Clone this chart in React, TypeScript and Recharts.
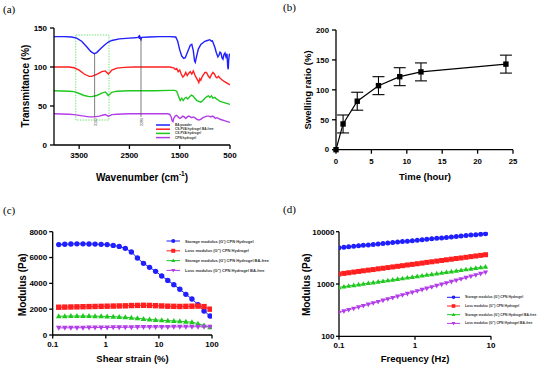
import React from 'react';
import { LineChart, Line, XAxis, YAxis, ReferenceLine, ReferenceArea, Legend, ErrorBar } from 'recharts';

// ---------- (a) FTIR spectra ----------
const baWave = [4000, 3800, 3650, 3550, 3450, 3350, 3270, 3200, 3150, 3080, 3000, 2920, 2850, 2700, 2500, 2400, 2330, 2310, 2300, 2290, 2270, 2255, 2100, 1900, 1700, 1580, 1540, 1500, 1460, 1420, 1390, 1340, 1290, 1260, 1230, 1205, 1190, 1170, 1130, 1080, 1000, 950, 900, 870, 850, 830, 800, 770, 740, 720, 700, 680, 660, 640, 620, 600, 580, 560, 545, 535, 525, 510, 500];
const baT = [139, 139, 138.5, 137, 133, 126, 120, 117, 118.5, 123, 128, 132, 134, 136, 137, 137.5, 138, 139.5, 136, 138.5, 135, 138, 138.5, 139, 139, 138.5, 133, 122, 114, 111, 112, 120, 128, 129, 121, 108, 106, 112, 123, 129, 133, 134, 135, 133, 133.5, 130, 125, 118, 113, 115, 119, 118, 112, 110, 116, 118, 113, 117, 100, 97, 110, 117, 115];

const csFreeWave = [4000, 3700, 3600, 3500, 3400, 3300, 3250, 3150, 3050, 2980, 2950, 2920, 2890, 2850, 2750, 2600, 2400, 2000, 1700, 1620, 1590, 1560, 1530, 1500, 1470, 1440, 1410, 1380, 1350, 1320, 1290, 1260, 1230, 1200, 1170, 1140, 1120, 1100, 1080, 1050, 1020, 1000, 970, 950, 930, 900, 870, 840, 810, 780, 760, 730, 700, 650, 600, 550, 500];
const csFreeT = [100, 100, 99, 96, 91, 88, 88, 90.5, 94, 95, 93, 91, 93, 96, 98.5, 99.5, 100, 100, 100, 99, 97, 98, 94, 96, 91, 87, 89, 93, 89, 92, 94, 91, 95, 90, 86, 83, 80, 85, 83, 88, 91, 93, 93, 91, 88, 86, 90, 93, 91, 87, 86, 88, 86, 83, 81, 79, 77];

const csWave = [4000, 3700, 3600, 3500, 3400, 3300, 3250, 3150, 3050, 2980, 2950, 2920, 2890, 2850, 2750, 2500, 2000, 1700, 1600, 1560, 1520, 1490, 1460, 1430, 1400, 1370, 1340, 1300, 1270, 1240, 1200, 1160, 1120, 1080, 1040, 1000, 960, 930, 900, 870, 840, 800, 770, 740, 700, 650, 600, 550, 500];
const csT = [69.5, 69, 68.5, 66, 63.5, 62, 62, 63.5, 66.5, 68, 66, 63.5, 65, 67.5, 69, 69.5, 69.5, 70, 70, 69, 62, 57, 60, 57, 60, 61, 59, 62, 64, 63, 60, 57, 56, 55, 57, 60, 62, 63, 61, 63, 60, 61, 59, 58, 56, 55, 54, 53, 52];

const cpnWave = [4000, 3700, 3600, 3500, 3400, 3300, 3200, 3100, 3020, 2980, 2950, 2920, 2880, 2850, 2750, 2500, 2000, 1750, 1700, 1670, 1650, 1635, 1620, 1590, 1560, 1530, 1500, 1470, 1440, 1410, 1380, 1350, 1320, 1290, 1260, 1230, 1200, 1160, 1120, 1080, 1040, 1000, 960, 920, 880, 850, 820, 790, 760, 730, 700, 650, 600, 550, 500];
const cpnT = [40, 39.5, 39, 38, 37, 36, 36, 37, 38.5, 39, 38, 37, 38, 39, 39.5, 40, 40, 40, 39.5, 36, 31, 30, 34, 37, 38, 36, 34, 35, 37, 36, 34, 36, 37, 36, 35, 36, 35, 33, 32, 33, 35, 36, 37, 37, 36, 37, 36, 34, 35, 34, 33, 32, 31, 30, 29];

const ftirNames = ['BA powder', 'CS-PVA hydrogel BA-free', 'CS-PVA hydrogel', 'CPN hydrogel'];
const ftirColors = ['#1f1fff', '#ff1f1f', '#1fc81f', '#b23ee8'];
const ftirXTicks = [3500, 2500, 1500, 500];
const ftirYTicks = [0, 50, 100, 150];
const peakWaves = [3192, 2270];
const peakTop = [117, 137];
const peakLabels = ['3192', '2289'];

// ---------- (b) swelling ----------
const timeHour = [0, 1, 3, 6, 9, 12, 24];
const swellingRatio = [0, 43, 81, 107, 122, 130, 143];
const swellingErr = [0, 15, 15, 15, 15, 15, 15];
const timeTicks = [0, 5, 10, 15, 20, 25];
const swellTicks = [0, 50, 100, 150, 200];

// ---------- (c) strain sweep ----------
const strainPct = [0.13, 0.169, 0.22, 0.286, 0.372, 0.483, 0.628, 0.817, 1.06, 1.38, 1.79, 2.33, 3.03, 3.94, 5.13, 6.67, 8.67, 11.3, 14.7, 19.1, 24.8, 32.2, 41.9, 54.5, 70.8, 92.0];
const strainGpCpn = [7000, 7030, 7050, 7060, 7060, 7050, 7040, 7020, 7000, 6940, 6860, 6710, 6430, 5960, 5550, 5240, 4930, 4570, 4230, 3900, 3540, 3150, 2790, 2350, 1860, 1470];
const strainGppCpn = [2150, 2160, 2170, 2180, 2190, 2200, 2210, 2220, 2230, 2240, 2250, 2260, 2280, 2290, 2300, 2290, 2270, 2250, 2230, 2220, 2210, 2220, 2230, 2240, 2200, 2000];
const strainGpFree = [1450, 1460, 1470, 1470, 1470, 1470, 1460, 1450, 1440, 1420, 1400, 1370, 1330, 1290, 1250, 1200, 1170, 1140, 1110, 1090, 1060, 1030, 990, 880, 730, 600];
const strainGppFree = [550, 555, 560, 560, 565, 570, 575, 580, 585, 590, 595, 600, 605, 610, 615, 620, 620, 625, 625, 630, 630, 630, 635, 640, 640, 630];
const strainTicks = [0.1, 1, 10, 100];
const strainYTicks = [0, 2000, 4000, 6000, 8000];

// ---------- (d) frequency sweep ----------
const freqHz = [0.1, 0.116, 0.134, 0.156, 0.181, 0.209, 0.243, 0.282, 0.327, 0.379, 0.439, 0.509, 0.59, 0.684, 0.794, 0.921, 1.07, 1.24, 1.43, 1.66, 1.93, 2.24, 2.59, 3.01, 3.49, 4.04, 4.69, 5.44, 6.31, 7.31, 8.48];
const freqGpCpn = [4940, 5040, 5150, 5260, 5360, 5480, 5590, 5710, 5830, 5950, 6070, 6200, 6330, 6460, 6590, 6730, 6870, 7010, 7160, 7310, 7460, 7610, 7770, 7930, 8100, 8270, 8440, 8610, 8790, 8980, 9160];
const freqGppCpn = [1550, 1595, 1640, 1690, 1740, 1790, 1840, 1890, 1950, 2000, 2060, 2120, 2180, 2240, 2310, 2370, 2440, 2510, 2590, 2660, 2740, 2820, 2900, 2980, 3070, 3150, 3240, 3340, 3430, 3530, 3630];
const freqGpFree = [863, 889, 917, 945, 974, 1004, 1034, 1066, 1099, 1132, 1167, 1203, 1240, 1278, 1317, 1358, 1399, 1442, 1487, 1532, 1579, 1628, 1678, 1729, 1782, 1837, 1894, 1952, 2012, 2073, 2137];
const freqGppFree = [285, 302, 321, 340, 361, 383, 406, 431, 457, 485, 514, 545, 578, 613, 651, 690, 732, 777, 824, 874, 927, 983, 1043, 1106, 1173, 1245, 1320, 1400, 1486, 1576, 1672];
const freqTicks = [0.1, 1, 10];
const freqYTicks = [100, 1000, 10000];

const rheoNames = [
  "Storage modulus (G') CPN Hydrogel",
  "Loss modulus (G'') CPN Hydrogel",
  "Storage modulus (G') CPN Hydrogel BA-free",
  "Loss modulus (G'') CPN Hydrogel BA-free",
];
const rheoColors = ['#1f1fff', '#ff1f1f', '#1fc81f', '#b23ee8'];
const rheoShapes = ['circle', 'square', 'up', 'down'];

// ---------- helpers ----------
const FONT = '"Liberation Sans", Arial, sans-serif';
const AX = { stroke: '#000', strokeWidth: 1.3 };
const tickStyle = (fs: number) => ({ fontSize: fs, fontWeight: 700, fill: '#000', fontFamily: FONT });

const zip = (xs: number[], ys: number[]) => xs.map((x, i) => ({ x, y: ys[i] }));
const ftirData = [zip(baWave, baT), zip(csFreeWave, csFreeT), zip(csWave, csT), zip(cpnWave, cpnT)];
const swellData = timeHour.map((t, i) => ({ x: t, y: swellingRatio[i], err: swellingErr[i] }));
const strainData = strainPct.map((x, i) => ({ x, s0: strainGpCpn[i], s1: strainGppCpn[i], s2: strainGpFree[i], s3: strainGppFree[i] }));
const freqData = freqHz.map((x, i) => ({ x, s0: freqGpCpn[i], s1: freqGppCpn[i], s2: freqGpFree[i], s3: freqGppFree[i] }));

function Marker({ shape, cx, cy, s, color }: { shape: string; cx: number; cy: number; s: number; color: string }) {
  if (shape === 'circle') return <circle cx={cx} cy={cy} r={s} fill={color} stroke="none" />;
  if (shape === 'square') return <rect x={cx - s} y={cy - s} width={2 * s} height={2 * s} fill={color} stroke="none" />;
  if (shape === 'up')
    return <polygon points={`${cx},${cy - s * 1.1} ${cx - s * 1.05},${cy + s * 0.75} ${cx + s * 1.05},${cy + s * 0.75}`} fill={color} />;
  return <polygon points={`${cx},${cy + s * 1.1} ${cx - s * 1.05},${cy - s * 0.75} ${cx + s * 1.05},${cy - s * 0.75}`} fill={color} />;
}

const dotFn = (shape: string, color: string, s: number) => (p: any) => {
  const { cx, cy, index } = p;
  if (cx == null || cy == null || isNaN(cx) || isNaN(cy)) return <g key={`n${index}`} />;
  return (
    <g key={`d${index}`}>
      <Marker shape={shape} cx={cx} cy={cy} s={s} color={color} />
    </g>
  );
};

const yTitle = (text: string, cx: number, cy: number, fs: number) => () => (
  <text x={cx} y={cy} transform={`rotate(-90 ${cx} ${cy})`} textAnchor="middle" dominantBaseline="central" fontSize={fs} fontWeight={700} fontFamily={FONT} fill="#000">
    {text}
  </text>
);
const xTitle = (content: React.ReactNode, cx: number, cy: number, fs: number) => () => (
  <text x={cx} y={cy} textAnchor="middle" dominantBaseline="central" fontSize={fs} fontWeight={700} fontFamily={FONT} fill="#000">
    {content}
  </text>
);

type LegendCfg = { names: string[]; colors: string[]; shapes?: string[]; x0: number; x1: number; tx: number; y0: number; gap: number; fs: number; ms?: number; lw: number };
function LegendBox({ cfg }: { cfg: LegendCfg }) {
  return (
    <svg width={275} height={184} style={{ position: 'absolute', left: 0, top: 0, overflow: 'visible' }}>
      {cfg.names.map((n, i) => {
        const y = cfg.y0 + i * cfg.gap;
        return (
          <g key={n}>
            <line x1={cfg.x0} x2={cfg.x1} y1={y} y2={y} stroke={cfg.colors[i]} strokeWidth={cfg.lw} />
            {cfg.shapes ? <Marker shape={cfg.shapes[i]} cx={(cfg.x0 + cfg.x1) / 2} cy={y} s={cfg.ms || 2} color={cfg.colors[i]} /> : null}
            <text x={cfg.tx} y={y} dominantBaseline="central" fontSize={cfg.fs} fontFamily={FONT} fontWeight={700} fill="#333">
              {n}
            </text>
          </g>
        );
      })}
    </svg>
  );
}

const legendWrap = { left: 0, top: 0, width: 275, height: 184, pointerEvents: 'none' as const };

const vLabel = (text: string) => (p: any) => {
  const vb = p.viewBox || {};
  const x = (vb.x ?? 0) + 1.5;
  const y = (vb.y ?? 0) + (vb.height ?? 0) + 1;
  return (
    <text x={x} y={y} transform={`rotate(-90 ${x} ${y})`} textAnchor="end" dominantBaseline="central" fontSize={3.6} fontFamily={FONT} fill="#333">
      {text}
    </text>
  );
};

function PanelA() {
  return (
    <LineChart width={275} height={184} margin={{ top: 28, right: 45, bottom: 0, left: 0 }}>
      <XAxis type="number" dataKey="x" domain={[500, 4000]} reversed ticks={ftirXTicks} allowDataOverflow height={39}
        tick={tickStyle(8)} tickSize={4} tickMargin={3} axisLine={AX} tickLine={AX}
        label={xTitle(<>Wavenumber (cm<tspan dy={-4} fontSize={6.5}>-1</tspan><tspan dy={4}>)</tspan></>, 142, 177, 10)} />
      <YAxis type="number" domain={[0, 150]} ticks={ftirYTicks} width={54} allowDataOverflow
        tick={tickStyle(8)} tickSize={4} tickMargin={3} axisLine={AX} tickLine={AX}
        label={yTitle('Transmitance (%)', 25, 86, 10)} />
      <ReferenceArea x1={3568} x2={2906} y1={32} y2={141} fill="none" stroke="#55dd55" strokeWidth={0.8} strokeDasharray="1.5 1.2" ifOverflow="visible" />
      {ftirData.map((d, i) => (
        <Line key={ftirNames[i]} data={d} dataKey="y" name={ftirNames[i]} type="linear" stroke={ftirColors[i]} strokeWidth={1.4} dot={false} isAnimationActive={false} />
      ))}
      {peakWaves.map((w, i) => (
        <ReferenceLine key={w} segment={[{ x: w, y: peakTop[i] }, { x: w, y: 36 }]} stroke="#444" strokeWidth={0.7} label={vLabel(peakLabels[i])} ifOverflow="visible" />
      ))}
      <Legend layout="horizontal" verticalAlign="middle" align="center" wrapperStyle={legendWrap}
        content={() => <LegendBox cfg={{ names: ftirNames, colors: ftirColors, x0: 156, x1: 170, tx: 175, y0: 125, gap: 4.2, fs: 3.2, lw: 1.5 }} />} />
    </LineChart>
  );
}

function PanelB() {
  return (
    <LineChart width={275} height={184} data={swellData} margin={{ top: 30, right: 37, bottom: 0, left: 0 }}>
      <XAxis type="number" dataKey="x" domain={[0, 25]} ticks={timeTicks} height={34.3}
        tick={tickStyle(7.8)} tickSize={4} tickMargin={5} axisLine={AX} tickLine={AX}
        label={xTitle('Time (hour)', 150, 176, 9.5)} />
      <YAxis type="number" domain={[0, 200]} ticks={swellTicks} width={61}
        tick={tickStyle(7.8)} tickSize={4} tickMargin={3} axisLine={AX} tickLine={AX}
        label={yTitle('Swelling ratio (%)', 32.7, 90, 9.5)} />
      <Line dataKey="y" type="linear" stroke="#000" strokeWidth={1.2} dot={dotFn('square', '#000', 2.7)} isAnimationActive={false}>
        <ErrorBar dataKey="err" width={6} stroke="#000" strokeWidth={1.1} direction="y" />
      </Line>
    </LineChart>
  );
}

function PanelC() {
  return (
    <LineChart width={275} height={184} data={strainData} margin={{ top: 47.7, right: 63, bottom: 0, left: 0 }}>
      <XAxis type="number" dataKey="x" scale="log" domain={[0.1, 100]} ticks={strainTicks} allowDataOverflow height={33}
        tickFormatter={(v: number) => String(v)} tick={tickStyle(8)} tickSize={3.5} tickMargin={3} axisLine={AX} tickLine={AX}
        label={xTitle('Shear strain (%)', 132.5, 174.3, 9.5)} />
      <YAxis type="number" domain={[0, 8000]} ticks={strainYTicks} width={52.7} allowDataOverflow
        tick={tickStyle(8)} tickSize={3.5} tickMargin={2} axisLine={AX} tickLine={AX}
        label={yTitle('Modulus (Pa)', 22.7, 100.8, 10)} />
      {rheoNames.map((n, i) => (
        <Line key={n} dataKey={`s${i}`} name={n} type="linear" stroke={rheoColors[i]} strokeWidth={1} dot={dotFn(rheoShapes[i], rheoColors[i], 2.7)} isAnimationActive={false} />
      ))}
      <Legend layout="horizontal" verticalAlign="middle" align="center" wrapperStyle={legendWrap}
        content={() => <LegendBox cfg={{ names: rheoNames, colors: rheoColors, shapes: rheoShapes, x0: 166.5, x1: 180, tx: 185, y0: 57, gap: 9.8, fs: 4, ms: 2, lw: 1 }} />} />
    </LineChart>
  );
}

function PanelD() {
  return (
    <LineChart width={275} height={184} data={freqData} margin={{ top: 47.7, right: 59, bottom: 0, left: 0 }}>
      <XAxis type="number" dataKey="x" scale="log" domain={[0.1, 10]} ticks={freqTicks} allowDataOverflow height={31.7}
        tickFormatter={(v: number) => String(v)} tick={tickStyle(8)} tickSize={3.5} tickMargin={3} axisLine={AX} tickLine={AX}
        label={xTitle('Frequency (Hz)', 140, 174.3, 9.5)} />
      <YAxis type="number" scale="log" domain={[100, 10000]} ticks={freqYTicks} width={64} allowDataOverflow
        tick={tickStyle(8)} tickSize={3} tickMargin={1.5} axisLine={AX} tickLine={AX}
        label={yTitle('Modulus (Pa)', 31.7, 100.7, 10)} />
      {rheoNames.map((n, i) => (
        <Line key={n} dataKey={`s${i}`} name={n} type="linear" stroke={rheoColors[i]} strokeWidth={1} dot={dotFn(rheoShapes[i], rheoColors[i], 2.5)} isAnimationActive={false} />
      ))}
      <Legend layout="horizontal" verticalAlign="middle" align="center" wrapperStyle={legendWrap}
        content={() => <LegendBox cfg={{ names: rheoNames, colors: rheoColors, shapes: rheoShapes, x0: 172, x1: 185, tx: 190, y0: 113.3, gap: 8.7, fs: 3.4, ms: 1.8, lw: 1 }} />} />
    </LineChart>
  );
}

const panelLabel = (t: string, left: number, top: number) => (
  <div style={{ position: 'absolute', left, top, fontFamily: '"Liberation Serif", "Times New Roman", serif', fontSize: 11, lineHeight: '11px', color: '#000' }}>{t}</div>
);

export default function App() {
  return (
    <div style={{ position: 'absolute', left: 0, top: 0, width: 550, height: 368, background: '#fff', overflow: 'hidden' }}>
      <div style={{ position: 'absolute', left: 0, top: 0 }}><PanelA /></div>
      <div style={{ position: 'absolute', left: 275, top: 0 }}><PanelB /></div>
      <div style={{ position: 'absolute', left: 0, top: 184 }}><PanelC /></div>
      <div style={{ position: 'absolute', left: 275, top: 184 }}><PanelD /></div>
      {panelLabel('(a)', 3, 4)}
      {panelLabel('(b)', 283, 2)}
      {panelLabel('(c)', 3, 205)}
      {panelLabel('(d)', 283, 203.5)}
    </div>
  );
}
